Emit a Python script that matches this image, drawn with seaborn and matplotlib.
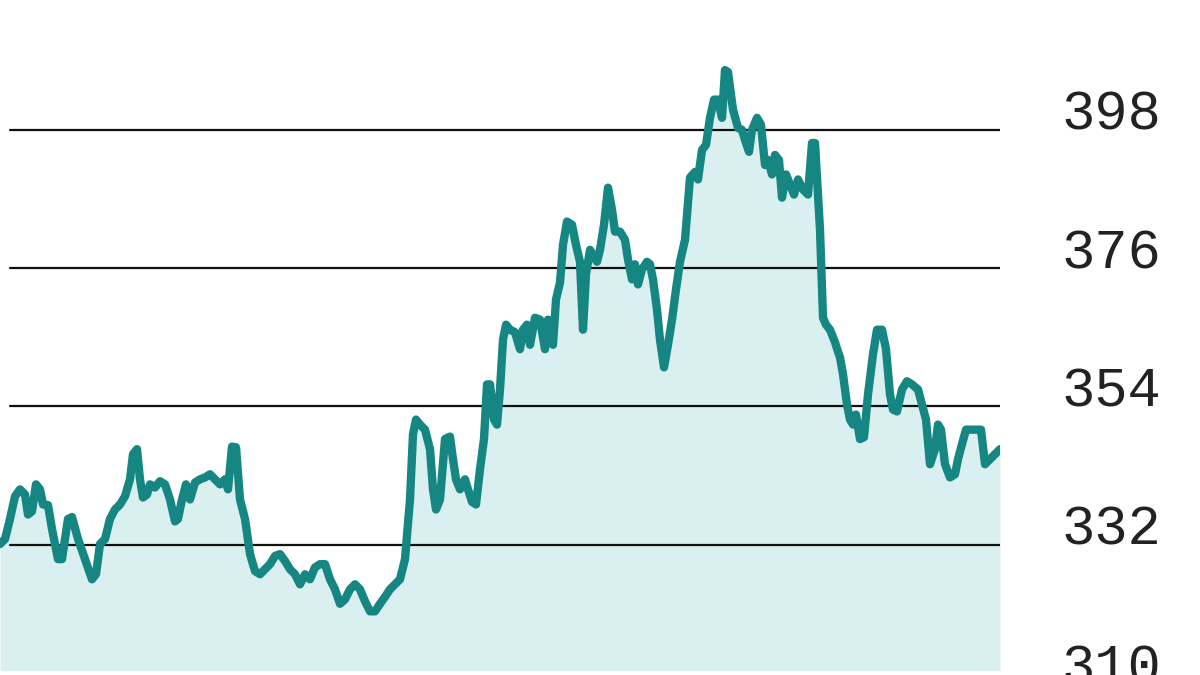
import seaborn as sns
import matplotlib.pyplot as plt
import pandas as pd

# datos (sesión, precio)
session = [0, 5, 10, 15, 20, 25, 28, 32, 36, 40, 43, 48, 52, 58, 62, 68, 72, 78, 85, 92,
           96, 100, 105, 110, 115, 120, 125, 130, 133, 137, 140, 143, 147, 150, 155, 160, 165, 170, 175, 178,
           182, 186, 190, 195, 200, 205, 210, 215, 220, 225, 228, 232, 236, 240, 245, 250, 255, 260, 265, 270,
           275, 280, 285, 290, 295, 300, 305, 310, 315, 320, 325, 330, 335, 340, 345, 350, 355, 360, 365, 370,
           375, 380, 385, 390, 395, 400, 405, 410, 413, 416, 420, 425, 430, 433, 436, 440, 445, 450, 453, 456,
           460, 465, 468, 472, 476, 480, 484, 487, 490, 494, 497, 500, 503, 506, 510, 515, 520, 523, 527, 530,
           535, 540, 545, 548, 553, 556, 560, 563, 567, 572, 576, 580, 583, 586, 590, 593, 597, 600, 604, 608,
           612, 615, 620, 625, 628, 632, 635, 638, 642, 647, 650, 653, 657, 660, 664, 668, 672, 676, 680, 685,
           690, 695, 698, 702, 706, 710, 714, 718, 722, 725, 728, 733, 738, 742, 745, 749, 752, 757, 761, 765,
           768, 772, 775, 779, 782, 786, 790, 794, 798, 803, 808, 812, 815, 820, 823, 826, 830, 835, 838, 840,
           843, 847, 850, 853, 856, 860, 864, 868, 873, 877, 882, 886, 890, 893, 897, 902, 907, 912, 918, 922,
           926, 930, 935, 938, 941, 945, 950, 955, 958, 962, 966, 972, 977, 981, 985, 990, 995, 1000]
price = [332.1, 332.9, 336.1, 339.7, 340.8, 340.0, 336.8, 337.3, 341.6, 340.8, 338.4, 338.3, 334.5, 329.7, 329.7, 336.1, 336.4, 332.9, 329.7, 326.5,
         327.3, 332.1, 332.9, 336.1, 337.6, 338.4, 339.7, 342.4, 346.4, 347.2, 342.4, 339.5, 340.0, 341.6, 341.1, 342.1, 341.6, 339.2, 335.7, 336.1,
         339.2, 341.6, 339.2, 341.9, 342.4, 342.7, 343.2, 342.4, 341.6, 342.4, 340.8, 347.6, 347.5, 339.2, 336.1, 330.5, 327.8, 327.3, 328.1, 328.9,
         330.2, 330.5, 329.4, 328.1, 327.3, 325.7, 327.3, 326.5, 328.4, 328.9, 328.9, 326.5, 324.9, 322.6, 323.3, 324.9, 325.7, 324.9, 323.0, 321.4,
         321.4, 322.6, 323.7, 324.9, 325.7, 326.5, 329.7, 339.2, 349.6, 351.9, 351.1, 350.3, 347.2, 340.8, 337.6, 339.2, 348.8, 349.2, 345.6, 342.4,
         340.8, 342.4, 340.8, 338.8, 338.4, 344.0, 348.8, 357.5, 357.5, 351.9, 351.1, 356.7, 364.6, 367.0, 366.2, 365.8, 363.1, 366.2, 367.0, 363.8,
         368.1, 367.8, 363.1, 367.8, 363.8, 371.0, 373.7, 379.7, 383.4, 382.9, 379.7, 377.0, 366.2, 375.0, 378.9, 378.1, 377.0, 378.9, 382.9, 388.8,
         385.3, 381.8, 381.8, 380.5, 377.4, 374.2, 376.6, 373.4, 375.8, 377.0, 376.6, 374.2, 369.4, 364.6, 360.2, 363.8, 367.8, 372.6, 377.0, 380.5,
         390.4, 391.3, 390.1, 394.8, 395.6, 399.9, 402.8, 402.8, 399.9, 407.5, 407.2, 401.2, 398.3, 398.0, 396.4, 394.5, 398.0, 399.9, 398.8, 392.4,
         393.2, 390.9, 394.0, 393.2, 387.2, 390.9, 389.3, 387.7, 390.1, 388.5, 387.7, 395.9, 395.9, 382.1, 368.1, 367.0, 366.2, 364.2, 362.7, 361.8,
         359.1, 354.3, 351.9, 351.1, 352.7, 348.8, 349.1, 355.9, 362.3, 366.2, 366.2, 363.1, 355.9, 353.5, 353.2, 356.7, 358.0, 357.5, 356.7, 354.3,
         351.9, 344.8, 347.2, 351.1, 350.3, 344.8, 342.7, 343.2, 345.6, 348.0, 350.3, 350.3, 350.3, 350.3, 344.8, 345.6, 346.4, 347.2]
ticks = [310, 332, 354, 376, 398]

df = pd.DataFrame({"session": session, "price": price})

line_color = "#158681"
fill_color = "#daf0f0"

sns.set_style("white")
plt.rcParams["font.family"] = ["Liberation Mono", "DejaVu Sans Mono"]

fig = plt.figure(figsize=(12, 6.75), dpi=100)
# ejes de 0 a 1000 px en x; en y de 310 (abajo, fuera de la figura) a 420
ax = fig.add_axes([0, -8 / 675, 1000 / 1200, 691.5 / 675])

ax.fill_between(df["session"], 312, df["price"], color=fill_color, lw=0, zorder=1)
for t in ticks[1:]:
    ax.axhline(t, xmin=0.01, xmax=1, color="#111111", lw=1.6, zorder=2)
sns.lineplot(data=df, x="session", y="price", color=line_color, linewidth=6,
             ax=ax, zorder=3)

ax.set_xlim(0, 1000)
ax.set_ylim(310, 420)
ax.set_xticks([])
ax.yaxis.tick_right()
ax.set_yticks(ticks)
ax.set_yticklabels([str(t) for t in ticks])
ax.tick_params(axis="y", length=0, pad=44, labelsize=40, labelcolor="#222222")
for lab in ax.get_yticklabels():
    lab.set_verticalalignment("baseline")
ax.set_xlabel("")
ax.set_ylabel("")
sns.despine(ax=ax, left=True, bottom=True, right=True, top=True)

fig.savefig("out.png", dpi=100)
